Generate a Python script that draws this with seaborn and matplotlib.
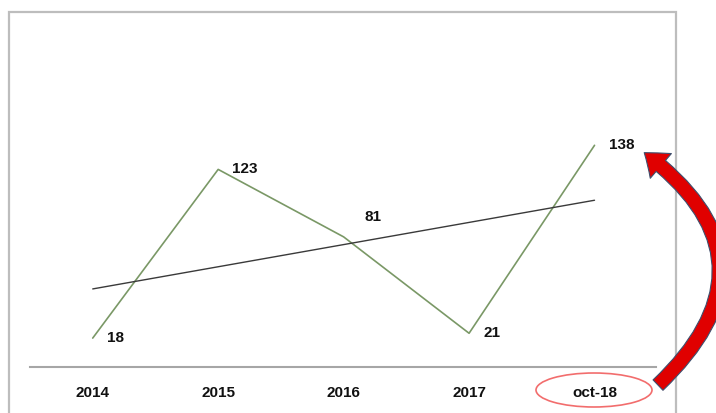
import numpy as np
import pandas as pd
import matplotlib.pyplot as plt
import seaborn as sns
from matplotlib.patches import Rectangle, Ellipse, FancyArrowPatch

# data
periods = ["2014", "2015", "2016", "2017", "oct-18"]
values = [18, 123, 81, 21, 138]

df = pd.DataFrame({"pos": np.arange(len(periods)), "value": values})

# linear trend through the series
slope, intercept = np.polyfit(df["pos"], df["value"], 1)
df["trend"] = intercept + slope * df["pos"]

sns.set_style("white")
plt.rcParams["font.family"] = ["Liberation Sans", "DejaVu Sans"]

fig = plt.figure(figsize=(7.16, 4.13), dpi=100)
ax = fig.add_axes([30 / 716, 1 - 367 / 413, 626 / 716, 347 / 413])

sns.lineplot(data=df, x="pos", y="value", color="#7a9866", linewidth=1.2, ax=ax)
sns.lineplot(x=df["pos"].iloc[[0, -1]], y=df["trend"].iloc[[0, -1]],
             color="#3a3a3a", linewidth=1.0, ax=ax)

ax.set_xlim(-0.5, 4.49)
ax.set_ylim(0, 216)

# data labels, right of the point (81 sits a bit higher)
for i, v in enumerate(values):
    off = (21, 20) if v == 81 else (14, 0)
    ax.annotate(str(v), (i, v), xytext=off, textcoords="offset pixels",
                ha="left", va="center", fontsize=11, fontweight="bold", color="#111111")

ax.set_xticks(df["pos"])
ax.set_xticklabels(periods, fontsize=11, fontweight="bold", color="#111111")
ax.tick_params(axis="x", length=0, pad=14)
ax.set_yticks([])
ax.set_xlabel("")
ax.set_ylabel("")
for s in ["top", "left", "right"]:
    ax.spines[s].set_visible(False)
ax.spines["bottom"].set_color("#a6a6a6")
ax.spines["bottom"].set_linewidth(1.5)

# outer chart frame
fig.add_artist(Rectangle((9 / 716, -0.05), 667 / 716, 1.05 - 12 / 413,
                         transform=fig.transFigure, fill=False,
                         edgecolor="#bdbdbd", linewidth=1.6))

# highlight ellipse around the last label
fig.add_artist(Ellipse((594 / 716, 1 - 390 / 413), 116 / 716, 34 / 413,
                       transform=fig.transFigure, fill=False,
                       edgecolor="#f26d6d", linewidth=1.2))

# curved arrow from the last label up to its value
fig.add_artist(FancyArrowPatch((656 / 716, 1 - 387 / 413), (642 / 716, 1 - 151 / 413),
                               transform=fig.transFigure,
                               connectionstyle="arc3,rad=0.6",
                               arrowstyle="simple,head_length=1.7,head_width=2.6,tail_width=1.15",
                               mutation_scale=9, facecolor="#e00000",
                               edgecolor="#3d4f6e", linewidth=0.8))

fig.savefig("out.png", dpi=100)
